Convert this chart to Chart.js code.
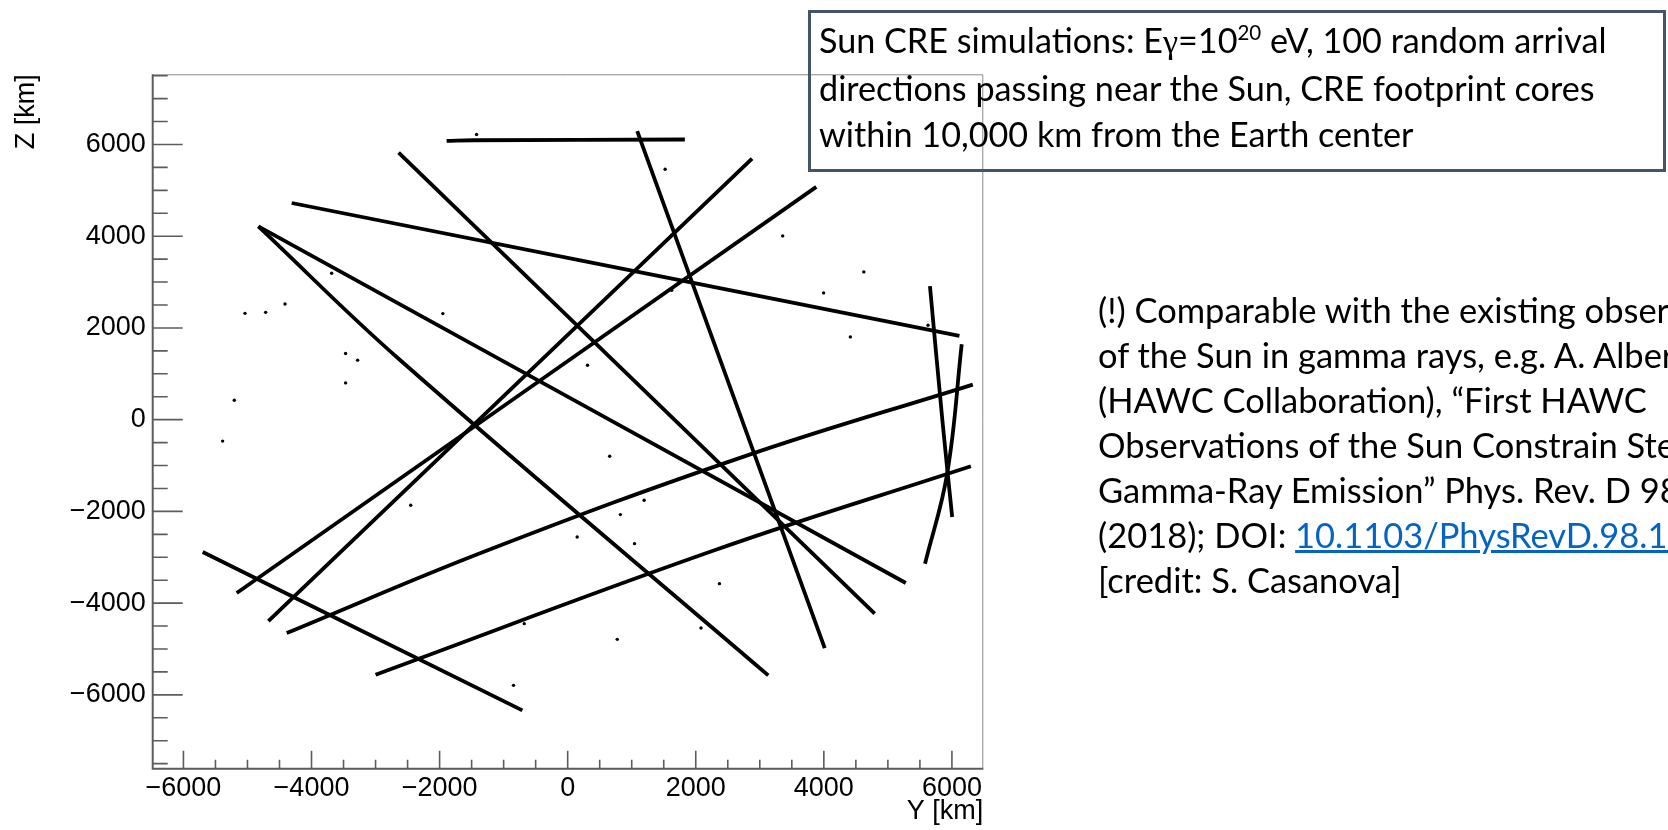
<!DOCTYPE html>
<html>
<head>
<meta charset="utf-8">
<title>Sun CRE footprints</title>
<script src="https://cdn.jsdelivr.net/npm/chart.js@4.4.1/dist/chart.umd.min.js"></script>
<style>
  html, body { margin: 0; padding: 0; background: #fff; overflow: hidden; }
  #page { position: relative; width: 1668px; height: 830px; overflow: hidden; background: #fff; }
  #chartEl { position: absolute; left: 0; top: 0; }
  #boxEl { position: absolute; left: 808px; top: 10px; width: 858px; height: 162px; box-sizing: border-box; border: 3px solid #44546a; }
  .txt { position: absolute; top: 0; font-family: Lato, 'Open Sans', sans-serif; font-size: 34px; color: #000; white-space: nowrap; }
  #boxTxt { left: 819px; line-height: 46px; }
  #noteTxt { left: 1098px; line-height: 45px; }
  .g { font-family: 'Liberation Serif', serif; }
  sup { font-size: .6em; line-height: 0; vertical-align: baseline; position: relative; top: -.65em; }
  a { color: #0563c1; text-decoration: underline; }
</style>
</head>
<body>
<div id="page">
  <canvas id="chartEl" width="1668" height="830"></canvas>
  <div id="boxEl"></div>
  <div class="txt" id="boxTxt">
    <div><span class="ln">Sun CRE simulations: E<span class="g">γ</span>=10<sup>20</sup> eV, 100 random arrival</span></div>
    <div><span class="ln">directions passing near the Sun, CRE footprint cores</span></div>
    <div><span class="ln">within 10,000 km from the Earth center</span></div>
  </div>
  <div class="txt" id="noteTxt">
    <div><span class="ln">(!) Comparable with the existing observations</span></div>
    <div><span class="ln">of the Sun in gamma rays, e.g. A. Albert et al.</span></div>
    <div><span class="ln">(HAWC Collaboration), “First HAWC</span></div>
    <div><span class="ln">Observations of the Sun Constrain Steady TeV</span></div>
    <div><span class="ln">Gamma-Ray Emission” Phys. Rev. D 98, 123011</span></div>
    <div><span class="ln">(2018); DOI: <a>10.1103/PhysRevD.98.123011</a></span></div>
    <div><span class="ln">[credit: S. Casanova]</span></div>
  </div>
</div>
<script>
/* Traces des empreintes : points [Y, Z] en km */
const trackA = [[-1890, 6080], [-1470, 6092], [1830, 6108]]
const trackB = [[-2640, 5820], [4794, -4229]]
const trackC = [[1086, 6290], [4014, -4979]]
const trackD = [[-5168, -3780], [3882, 5076]]
const trackE = [[-4674, -4390], [2879, 5694]]
const trackF = [[-4309, 4724], [6117, 1826]]
const trackG = [[-4830, 4214], [-2618, 1300], [3132, -5575]]
const trackH = [[-4830, 4214], [5280, -3561]]
const trackI = [[-5699, -2885], [-708, -6338]]
const trackJ = [[-4387, -4652], [-1248, -2848], [2760, -800], [6326, 765]]
const trackK = [[-3000, -5560], [2292, -2848], [6296, -1017]]
const trackL = [[5657, 2910], [5850, 0], [6004, -2122]]
const trackM = [[6153, 1644], [5926, -1176], [5580, -3140]]

/* Coeurs isolés */
const dotY = [-5039, -4716, -4414, -3686, -3468, -3280, -3468, -5206, -5388, -1423, 1522, 3357, 4624, 3996, 5627, 4414, -1949, 310, 1624, 656, -2451, 1194, 823, 148, 1044, 2370, 2082, 774, -678, -846]
const dotZ = [2318, 2340, 2522, 3193, 1444, 1298, 802, 423, -467, 6217, 5461, 4007, 3222, 2764, 2059, 1804, 2313, 1186, 2822, -798, -1867, -1758, -2070, -2558, -2703, -3575, -4543, -4790, -4448, -5793]

/* Axes */
const yTickVals = [-6000, -4000, -2000, 0, 2000, 4000, 6000]
const zTickVals = [-6000, -4000, -2000, 0, 2000, 4000, 6000]
const majorStep = 2000
const minorStep = 500

const fmt = v => v < 0 ? '\u2212' + Math.abs(v) : String(v)
const axisFont = { family: "'Liberation Sans', Arial, sans-serif", size: 27 }

/* Cadre et graduations vers l'intérieur, façon ROOT */
const rootAxes = {
  id: 'rootAxes',
  beforeDatasetsDraw(chart) {
    const { ctx, chartArea: a, scales: { x, y } } = chart
    ctx.save()
    ctx.strokeStyle = '#8a8a8a'
    ctx.lineWidth = 1
    ctx.beginPath()
    ctx.moveTo(a.left, a.top + 0.5)
    ctx.lineTo(a.right - 0.5, a.top + 0.5)
    ctx.lineTo(a.right - 0.5, a.bottom)
    ctx.stroke()

    ctx.strokeStyle = '#5c5c5c'
    ctx.lineWidth = 2
    ctx.beginPath()
    ctx.moveTo(a.left, a.top)
    ctx.lineTo(a.left, a.bottom)
    ctx.lineTo(a.right, a.bottom)
    ctx.stroke()

    ctx.lineWidth = 1.6
    ctx.beginPath()
    for (let v = Math.ceil(x.min / minorStep) * minorStep; v <= x.max; v += minorStep) {
      const px = x.getPixelForValue(v)
      const len = v % majorStep === 0 ? 18 : 9
      ctx.moveTo(px, a.bottom)
      ctx.lineTo(px, a.bottom - len)
    }
    for (let v = Math.ceil(y.min / minorStep) * minorStep; v <= y.max; v += minorStep) {
      const py = y.getPixelForValue(v)
      const len = v % majorStep === 0 ? 30 : 15
      ctx.moveTo(a.left, py)
      ctx.lineTo(a.left + len, py)
    }
    ctx.stroke()
    ctx.restore()
  }
}

const tracks = [trackA, trackB, trackC, trackD, trackE, trackF, trackG, trackH, trackI, trackJ, trackK, trackL, trackM]
const datasets = tracks.map(t => ({
  data: t.map(([Y, Z]) => ({ x: Y, y: Z })),
  showLine: true,
  borderColor: '#000',
  borderWidth: 3.8,
  pointRadius: 0,
  tension: 0.4,
  fill: false
}))
datasets.push({
  data: dotY.map((v, i) => ({ x: v, y: dotZ[i] })),
  showLine: false,
  pointRadius: 1.7,
  pointBackgroundColor: '#000',
  pointBorderWidth: 0
})

new Chart(document.querySelector('#chartEl'), {
  type: 'scatter',
  data: { datasets },
  plugins: [rootAxes],
  options: {
    responsive: false,
    devicePixelRatio: 1,
    animation: false,
    layout: { padding: { top: 74.3, right: 684.7, left: 0, bottom: 0 } },
    plugins: { legend: { display: false }, tooltip: { enabled: false } },
    scales: {
      x: {
        type: 'linear', min: -6480, max: 6490,
        grid: { display: false, drawTicks: false },
        border: { display: false },
        ticks: { padding: 4, font: axisFont, color: '#000', maxRotation: 0, autoSkip: false, callback: fmt },
        afterBuildTicks: s => { s.ticks = yTickVals.map(v => ({ value: v })) },
        afterFit: s => { s.height = 61.3 },
        title: { display: true, text: 'Y [km]', align: 'end', font: axisFont, color: '#000', padding: { top: 0, bottom: 2 } }
      },
      y: {
        type: 'linear', min: -7610, max: 7530,
        grid: { display: false, drawTicks: false },
        border: { display: false },
        ticks: { padding: 7, font: axisFont, color: '#000', autoSkip: false, callback: fmt },
        afterBuildTicks: s => { s.ticks = zTickVals.map(v => ({ value: v })) },
        afterFit: s => { s.width = 152.7 },
        title: { display: true, text: 'Z [km]', align: 'end', font: axisFont, color: '#000', padding: { top: 10.8, bottom: 0 } }
      }
    }
  }
})

/* Ajuste la taille du texte et place la première ligne de base */
const fitBlock = (blockId, refIdx, targetWidth, firstBaseline) => {
  const block = document.getElementById(blockId)
  const lines = block.querySelectorAll('.ln')
  const size = parseFloat(getComputedStyle(block).fontSize)
  block.style.fontSize = (size * targetWidth / lines[refIdx].getBoundingClientRect().width) + 'px'
  const mark = document.createElement('span')
  mark.style.cssText = 'display:inline-block;width:0;height:0;vertical-align:baseline'
  lines[0].appendChild(mark)
  const base = mark.getBoundingClientRect().top - block.getBoundingClientRect().top
  mark.remove()
  block.style.top = (firstBaseline - base) + 'px'
}
fitBlock('boxTxt', 0, 788, 53)
fitBlock('noteTxt', 2, 549, 323)
</script>
</body>
</html>
